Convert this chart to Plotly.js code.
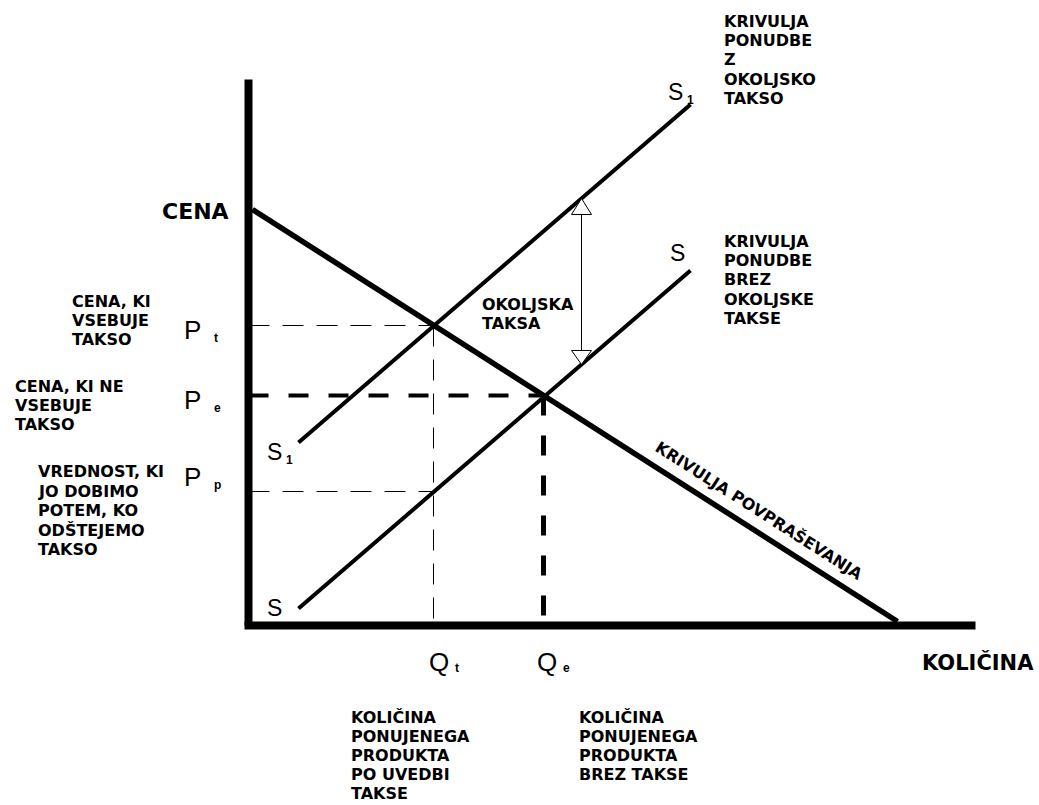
<!DOCTYPE html>
<html><head><meta charset="utf-8">
<script src="https://cdn.plot.ly/plotly-3.0.1.min.js"></script>
<style>html,body{margin:0;padding:0;background:#fff;overflow:hidden}</style>
</head><body><div id="chart" style="width:1039px;height:805px"></div>
<script>
// ---- data (quantity / price units, origin at the axis corner) ----
const demandQ = [4, 649];
const demandP = [416, 4];
const supplyQ = [50, 442];
const supplyP = [17, 355];
const supplyTaxQ = [50, 442];
const supplyTaxP = [183, 521];
const priceNames = ["t", "e", "p"];
const priceValues = [300, 230, 134];
const quantityNames = ["t", "e"];
const quantityValues = [185, 295];
const taxArrowQ = 333;
const axisQ = [-4, 727];
const axisP = [0, 546];

// ---- label texts ----
const noteSupplyTax = ["KRIVULJA", "PONUDBE", "Z", "OKOLJSKO", "TAKSO"];
const noteSupply = ["KRIVULJA", "PONUDBE", "BREZ", "OKOLJSKE", "TAKSE"];
const notePt = ["CENA, KI", "VSEBUJE", "TAKSO"];
const notePe = ["CENA, KI NE", "VSEBUJE", "TAKSO"];
const notePp = ["VREDNOST, KI", "JO DOBIMO", "POTEM, KO", "ODŠTEJEMO", "TAKSO"];
const noteTax = ["OKOLJSKA", "TAKSA"];
const noteQt = ["KOLIČINA", "PONUJENEGA", "PRODUKTA", "PO UVEDBI", "TAKSE"];
const noteQe = ["KOLIČINA", "PONUJENEGA", "PRODUKTA", "BREZ TAKSE"];
const demandLabel = "KRIVULJA POVPRAŠEVANJA";
const xLabel = "KOLIČINA";
const yLabel = "CENA";

// ---- helpers ----
const OX = 248, OY = 626; // pixel position of the origin
const X = px => px - OX;
const Y = py => OY - py;
function lineAt(qs, ps, q) { return ps[0] + (q - qs[0]) * (ps[1] - ps[0]) / (qs[1] - qs[0]); }

const Pt = priceValues[0], Pe = priceValues[1], Pp = priceValues[2];
const Qt = quantityValues[0], Qe = quantityValues[1];

const traces = [];
function seg(x, y, width, dash) {
  traces.push({type: 'scatter', mode: 'lines', x: x, y: y, hoverinfo: 'skip',
    line: {color: '#000', width: width, dash: dash || 'solid'}});
}
// guide lines
seg([0, Qt], [Pt, Pt], 1, '21px,13px');
seg([Qt, Qt], [Pt, 0], 1, '21px,13px');
seg([0, Qt], [Pp, Pp], 1, '21px,13px');
seg([0, Qe], [Pe, Pe], 4, '20px,20px');
seg([Qe, Qe], [Pe, 0], 5, '20px,20px');
// curves
seg(supplyQ, supplyP, 4);
seg(supplyTaxQ, supplyTaxP, 4);
seg(demandQ, demandP, 5.5);
// axes
seg([0, 0], axisP, 8);
seg(axisQ, [0, 0], 8);

// tax arrow
const aTop = lineAt(supplyTaxQ, supplyTaxP, taxArrowQ);
const aBot = lineAt(supplyQ, supplyP, taxArrowQ);
const headH = 16, headW = 10;
seg([taxArrowQ, taxArrowQ], [aTop - headH, aBot + headH - 2], 1);
traces.push({type: 'scatter', mode: 'lines', hoverinfo: 'skip', fill: 'toself', fillcolor: '#fff',
  x: [taxArrowQ, taxArrowQ - headW, taxArrowQ + headW, taxArrowQ],
  y: [aTop, aTop - headH, aTop - headH, aTop], line: {color: '#000', width: 1}});
traces.push({type: 'scatter', mode: 'lines', hoverinfo: 'skip', fill: 'toself', fillcolor: '#fff',
  x: [taxArrowQ, taxArrowQ - headW, taxArrowQ + headW, taxArrowQ],
  y: [aBot, aBot + headH - 2, aBot + headH - 2, aBot], line: {color: '#000', width: 1}});

// ---- annotations ----
const ann = [];
const boldFont = size => ({family: 'DejaVu Sans, sans-serif', size: size, color: '#000'});
const regFont = size => ({family: 'Liberation Sans, Arial, sans-serif', size: size, color: '#000'});
function note(lines, xPx, yPx, size, spacing) {
  lines.forEach((t, i) => ann.push({x: X(xPx), y: Y(yPx + i * spacing), text: '<b>' + t + '</b>',
    xanchor: 'left', yanchor: 'middle', showarrow: false, font: boldFont(size)}));
}
function sym(letter, sub, xPx, yPx, size, subDx, subDy, subSize) {
  ann.push({x: X(xPx), y: Y(yPx), text: letter, xanchor: 'left', yanchor: 'middle',
    showarrow: false, font: regFont(size)});
  if (sub) ann.push({x: X(xPx + subDx), y: Y(yPx + subDy), text: '<b>' + sub + '</b>', xanchor: 'left', yanchor: 'middle',
    showarrow: false, font: regFont(subSize)});
}
note(noteSupplyTax, 721, 22, 16, 19.2);
note(noteSupply, 721, 242, 16, 19.2);
note(notePt, 69, 302, 16, 19.2);
note(notePe, 12, 387, 16, 19.2);
note(notePp, 35, 472, 16, 19.5);
note(noteTax, 479, 305, 16, 18.5);
note(noteQt, 348, 718, 16, 19);
note(noteQe, 576, 718, 16, 19);

ann.push({x: X(195), y: Y(212), text: '<b>' + yLabel + '</b>', xanchor: 'center', yanchor: 'middle',
  showarrow: false, font: boldFont(22)});
ann.push({x: X(977), y: Y(663), text: '<b>' + xLabel + '</b>', xanchor: 'center', yanchor: 'middle',
  showarrow: false, font: boldFont(21)});

const demandAngle = Math.atan2(demandP[0] - demandP[1], demandQ[1] - demandQ[0]) * 180 / Math.PI;
ann.push({x: X(758), y: Y(511), text: '<b>' + demandLabel + '</b>', xanchor: 'center', yanchor: 'middle',
  textangle: demandAngle, showarrow: false, font: boldFont(16)});

// price / quantity symbols
const pPix = [330, 400, 477];
priceNames.forEach((n, i) => sym('P', n, 181, pPix[i], 26, 30, 8, 12));
const qPix = [426, 534];
quantityNames.forEach((n, i) => sym('Q', n, qPix[i], 662, 26, 26, 6, 12));
sym('S', '1', 665, 92, 23, 19, 8, 12);
sym('S', '1', 264, 452, 23, 19, 8, 12);
sym('S', '', 667, 253, 23, 0, 0, 12);
sym('S', '', 264, 608, 23, 0, 0, 12);

const layout = {
  width: 1039, height: 805, autosize: false,
  margin: {l: 0, r: 0, t: 0, b: 0, pad: 0},
  paper_bgcolor: '#fff', plot_bgcolor: '#fff', showlegend: false,
  xaxis: {range: [X(0) - 0.5, X(1039) - 0.5], visible: false, fixedrange: true},
  yaxis: {range: [Y(805) - 0.5, Y(0) - 0.5], visible: false, fixedrange: true},
  annotations: ann
};
Plotly.newPlot('chart', traces, layout, {staticPlot: true, displayModeBar: false});
</script>
</body></html>
